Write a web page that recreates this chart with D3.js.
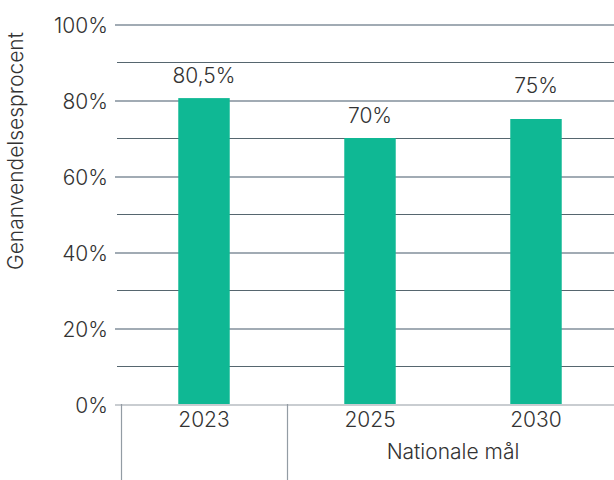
<!DOCTYPE html>
<html><head><meta charset="utf-8">
<script src="https://cdn.jsdelivr.net/npm/d3@7/dist/d3.min.js"></script>
<style>
html,body{margin:0;padding:0;background:#fff;}
svg text{font-family:Inter,"Liberation Sans",Arial,sans-serif;font-weight:300;font-size:21px;fill:#333;}
</style></head>
<body><svg id="c" width="614" height="480"></svg>
<script>
const categories = ["2023", "2025", "2030"];
const values = [80.5, 70, 75];
const valueLabels = ["80,5%", "70%", "75%"];
const yTicks = [0, 20, 40, 60, 80, 100];
const yMinor = [10, 30, 50, 70, 90];
const groupLabel = "Nationale mål";
const yTitle = "Genanvendelsesprocent";

const svg = d3.select("#c");
const y = d3.scaleLinear().domain([0, 100]).range([404, 24]);
const x = d3.scaleBand().domain(categories).range([121, 619])
  .paddingInner(0.69).paddingOuter(0.345);
const step = x.step();
const labelGap = [15, 15, 26];

// minor grid
svg.append("g").selectAll("line").data(yMinor).join("line")
  .attr("x1", 117).attr("x2", 614)
  .attr("y1", d => Math.round(y(d)) + 0.5).attr("y2", d => Math.round(y(d)) + 0.5)
  .attr("stroke", "#56666f").attr("stroke-width", 1.2);

// major grid (y axis with ticks)
const yAxis = d3.axisLeft(y).tickValues(yTicks).tickFormat(d => d + "%")
  .tickSize(-(614 - 115)).tickPadding(8);
const ga = svg.append("g").attr("transform", "translate(115,0.5)").call(yAxis);
ga.select(".domain").remove();
ga.selectAll(".tick line").attr("x1", 0).attr("x2", 614 - 115)
  .attr("stroke", d => d === 0 ? "#939ca4" : "#44586a").attr("stroke-width", 1.2);
ga.selectAll(".tick text").attr("x", -7).attr("dy", "0.36em")
  .attr("font-family", null).attr("font-size", null);

// category separators
const sepX = [121, 121 + step];
svg.append("g").selectAll("line").data(sepX).join("line")
  .attr("x1", d => d + 0.5).attr("x2", d => d + 0.5)
  .attr("y1", 404).attr("y2", 480)
  .attr("stroke", "#939ca4").attr("stroke-width", 1.2);

// bars
svg.append("g").selectAll("rect").data(values).join("rect")
  .attr("x", (d, i) => x(categories[i]))
  .attr("width", x.bandwidth())
  .attr("y", d => y(d))
  .attr("height", d => y(0) - y(d))
  .attr("fill", "#0fb894");

// value labels
svg.append("g").selectAll("text").data(values).join("text")
  .attr("x", (d, i) => x(categories[i]) + x.bandwidth() / 2)
  .attr("y", (d, i) => y(d) - labelGap[i])
  .attr("text-anchor", "middle")
  .text((d, i) => valueLabels[i]);

// x labels
svg.append("g").selectAll("text").data(categories).join("text")
  .attr("x", d => x(d) + x.bandwidth() / 2)
  .attr("y", 427)
  .attr("text-anchor", "middle")
  .text(d => d);

// group label
svg.append("text")
  .attr("x", (x("2025") + x("2030") + x.bandwidth()) / 2)
  .attr("y", 459).attr("text-anchor", "middle")
  .text(groupLabel);

// y title
svg.append("text")
  .attr("transform", "translate(23,151) rotate(-90)")
  .attr("text-anchor", "middle")
  .text(yTitle);
</script></body></html>
